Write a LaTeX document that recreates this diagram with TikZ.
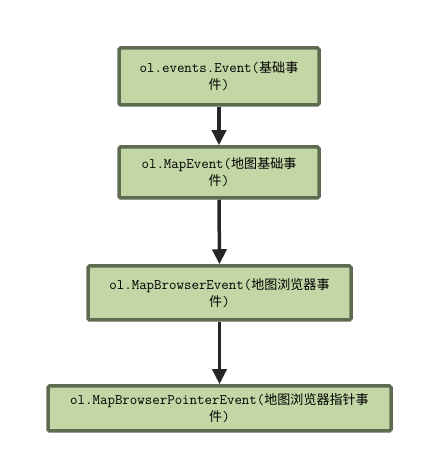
\documentclass[tikz,border=0pt]{standalone}
\usepackage{fontspec}
\newfontfamily\cjk[Scale=0.9]{Noto Sans CJK SC}
\usetikzlibrary{arrows.meta}
\definecolor{boxfill}{HTML}{C3D6A5}
\definecolor{boxline}{HTML}{5F6B50}
\definecolor{arrowc}{HTML}{262626}
\begin{document}
\begin{tikzpicture}[x=1pt,y=1pt,
  evbox/.style={draw=boxline, fill=boxfill, line width=3.5pt, rounded corners=1.5pt,
    inner sep=0pt, align=center, font=\ttfamily\fontsize{14.5}{17}\selectfont},
  conn/.style={draw=arrowc, line width=3.5pt, -{Triangle[length=15pt,width=14pt]}}]
\useasboundingbox (0,0) rectangle (422,462);
\fill[white] (0,0) rectangle (422,462);
\node[evbox, minimum width=200pt, minimum height=57pt] (e1) at (219,385.5)
  {ol.events.Event({\cjk 基础事}\\{\cjk 件})};
\node[evbox, minimum width=200pt, minimum height=51pt] (e2) at (219,289.5)
  {ol.MapEvent({\cjk 地图基础事}\\{\cjk 件})};
\node[evbox, minimum width=263pt, minimum height=54pt] (e3) at (219.5,169)
  {ol.MapBrowserEvent({\cjk 地图浏览器事}\\{\cjk 件})};
\node[evbox, minimum width=343pt, minimum height=45pt] (e4) at (219.5,53.5)
  {ol.MapBrowserPointerEvent({\cjk 地图浏览器指针事}\\{\cjk 件})};
\draw[conn] (e1.south) -- (e2.north);
\draw[conn] (e2.south) -- (e3.north);
\draw[conn] (e3.south) -- (e4.north);
\end{tikzpicture}
\end{document}
